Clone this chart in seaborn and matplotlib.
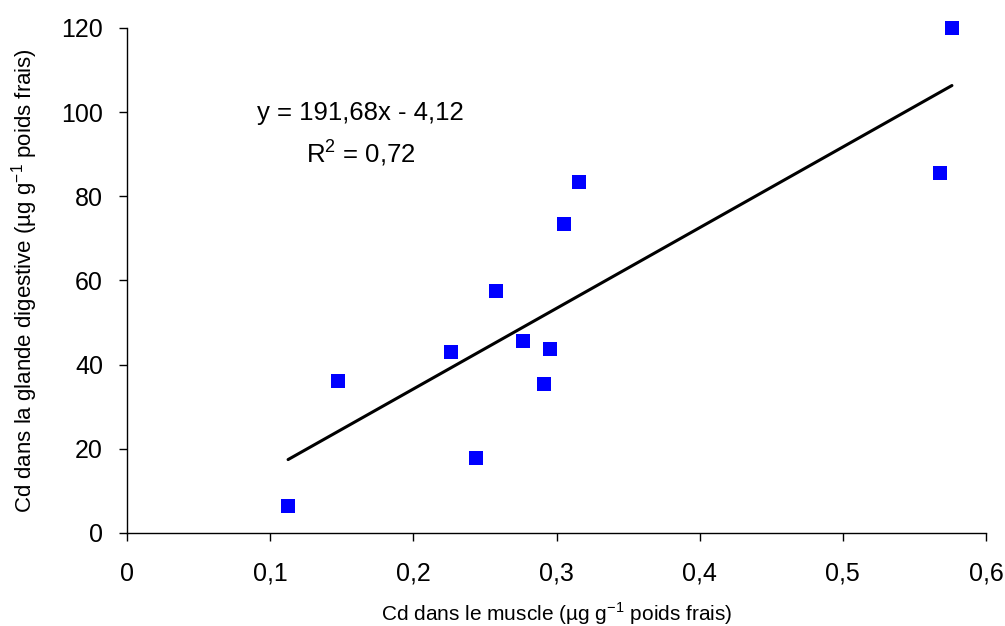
import matplotlib
matplotlib.use("Agg")
import matplotlib.pyplot as plt
import seaborn as sns
import pandas as pd
import numpy as np
from matplotlib.ticker import FuncFormatter

# Data
muscle = [0.1125, 0.1474, 0.2263, 0.2438, 0.2577, 0.2766, 0.2913, 0.2955, 0.3052, 0.3157, 0.5679, 0.5762]
glande = [6.4, 36.1, 43.0, 17.8, 57.5, 45.6, 35.4, 43.7, 73.4, 83.4, 85.5, 120.0]
slope = 191.68
intercept = -4.12
r2 = 0.72
x_ticks = [0, 0.1, 0.2, 0.3, 0.4, 0.5, 0.6]
y_ticks = [0, 20, 40, 60, 80, 100, 120]

sns.set_theme(style="white")
plt.rcParams['font.family'] = ['Liberation Sans', 'DejaVu Sans']
plt.rcParams['mathtext.fontset'] = 'custom'
plt.rcParams['mathtext.rm'] = 'Liberation Sans'

fig = plt.figure(figsize=(10.05, 6.26), dpi=100)
ax = fig.add_axes([0.1264, 0.1486, 0.8547, 0.8067])

df = pd.DataFrame({"muscle": muscle, "glande": glande})
sns.scatterplot(data=df, x="muscle", y="glande", ax=ax, marker="s", color="#0000FF",
                s=100, linewidth=0, zorder=3, clip_on=False)

xf = np.array([min(muscle), max(muscle)])
fit = pd.DataFrame({"x": xf, "y": slope * xf + intercept})
sns.lineplot(data=fit, x="x", y="y", ax=ax, color="black", linewidth=2.2, zorder=2)

ax.set_xlim(0, 0.6)
ax.set_ylim(0, 120)
ax.set_xticks(x_ticks)
ax.set_yticks(y_ticks)
fmt = lambda v, p: ("%g" % v).replace(".", ",")
ax.xaxis.set_major_formatter(FuncFormatter(fmt))
ax.yaxis.set_major_formatter(FuncFormatter(fmt))

for s in ["top", "right"]:
    ax.spines[s].set_visible(False)
for s in ["left", "bottom"]:
    ax.spines[s].set_color("black")
    ax.spines[s].set_linewidth(1.0)
ax.tick_params(axis="both", direction="out", length=5.8, width=1, color="black",
               labelcolor="black", bottom=True, left=True)
ax.tick_params(axis="x", pad=15, labelsize=18)
ax.tick_params(axis="y", pad=11.5, labelsize=18)

ax.set_xlabel("Cd dans le muscle (µg g$^{-1}$ poids frais)", fontsize=15, color="black")
ax.set_ylabel("Cd dans la glande digestive (µg g$^{-1}$ poids frais)", fontsize=16, color="black")
ax.xaxis.label.set_verticalalignment("baseline")
ax.xaxis.set_label_coords(0.5, -0.1743)
ax.yaxis.set_label_coords(-0.101, 0.5)

eq = "y = %sx - %s" % (("%.2f" % slope).replace(".", ","), ("%.2f" % abs(intercept)).replace(".", ","))
ax.text(0.163, 99.8, eq, ha="center", va="center", fontsize=18.5, color="black")
ax.text(0.163, 90.3, "R$^2$ = " + ("%.2f" % r2).replace(".", ","), ha="center", va="center",
        fontsize=18.5, color="black")

fig.savefig("out.png", dpi=100)
